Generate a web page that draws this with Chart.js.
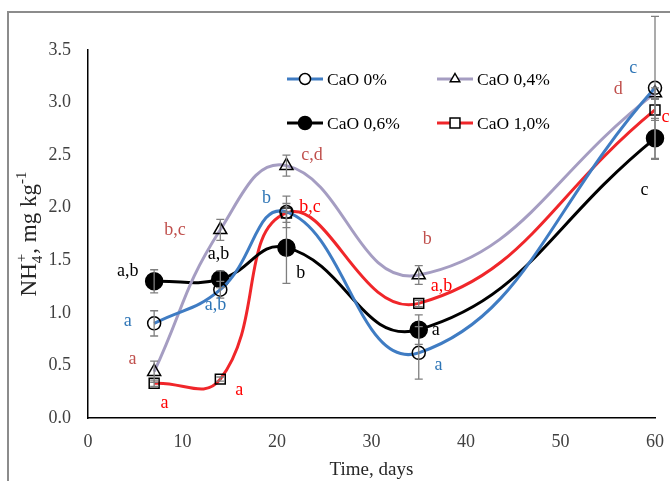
<!DOCTYPE html>
<html>
<head>
<meta charset="utf-8">
<script src="https://cdn.jsdelivr.net/npm/chart.js@4.4.1/dist/chart.umd.min.js"></script>
<style>
  html, body { margin: 0; padding: 0; background: #fff; }
  #wrap { position: relative; width: 670px; height: 481px; }
</style>
</head>
<body>
<div id="wrap"><canvas id="myChart" width="670" height="481"></canvas></div>
<script>
// sampling days
const days = [7, 14, 21, 35, 60];

// NH4+ means, mg/kg
const cao0 = [0.90, 1.22, 1.96, 0.62, 3.14];
const cao04 = [0.44, 1.79, 2.40, 1.36, 3.09];
const cao06 = [1.30, 1.32, 1.62, 0.84, 2.66];
const cao10 = [0.33, 0.37, 1.95, 1.09, 2.93];

// error bars (+/-)
const err0 = [0.12, 0.08, 0.15, 0.25, 0.68];
const err04 = [0.10, 0.10, 0.10, 0.09, 0.05];
const err06 = [0.11, 0.08, 0.34, 0.14, 0.19];
const err10 = [0.03, 0.02, 0.09, 0.03, 0.10];

const seriesNames = ['CaO 0%', 'CaO 0,4%', 'CaO 0,6%', 'CaO 1,0%'];

// significance letters: [day, value, text, colour]
const letters = [
    [4.2, 0.92, 'a', '#2E75B6'],
    [13.5, 1.07, 'a,b', '#2E75B6'],
    [18.9, 2.09, 'b', '#2E75B6'],
    [37.1, 0.50, 'a', '#2E75B6'],
    [57.7, 3.33, 'c', '#2E75B6'],
    [4.7, 0.56, 'a', '#C0504D'],
    [9.2, 1.79, 'b,c', '#C0504D'],
    [23.7, 2.50, 'c,d', '#C0504D'],
    [35.9, 1.70, 'b', '#C0504D'],
    [56.1, 3.13, 'd', '#C0504D'],
    [4.2, 1.40, 'a,b', '#000000'],
    [13.8, 1.56, 'a,b', '#000000'],
    [22.5, 1.38, 'b', '#000000'],
    [36.8, 0.83, 'a', '#000000'],
    [58.9, 2.17, 'c', '#000000'],
    [8.1, 0.14, 'a', '#FF0000'],
    [16.0, 0.26, 'a', '#FF0000'],
    [23.5, 2.00, 'b,c', '#FF0000'],
    [37.4, 1.25, 'a,b', '#FF0000'],
    [61.1, 2.86, 'c', '#FF0000']
];

const serif = '"Liberation Serif", "Times New Roman", serif';

function toXY(vals) {
    return days.map((d, i) => ({ x: d, y: vals[i] }));
}

function drawMarker(ctx, style, x, y, r, border, fill) {
    ctx.save();
    ctx.lineWidth = 1.5;
    ctx.strokeStyle = border;
    ctx.fillStyle = fill;
    ctx.beginPath();
    if (style === 'circle') {
        ctx.arc(x, y, r, 0, Math.PI * 2);
    } else if (style === 'triangle') {
        ctx.moveTo(x, y - r);
        ctx.lineTo(x + r * 0.866, y + r * 0.5);
        ctx.lineTo(x - r * 0.866, y + r * 0.5);
        ctx.closePath();
    } else {
        const s = r * Math.SQRT1_2;
        ctx.rect(x - s, y - s, s * 2, s * 2);
    }
    ctx.fill();
    ctx.stroke();
    ctx.restore();
}

const errors = [err0, err04, err06, err10];

const extrasPlugin = {
    id: 'extras',
    beforeDraw(chart) {
        const ctx = chart.ctx;
        ctx.save();
        ctx.fillStyle = '#fff';
        ctx.fillRect(0, 0, chart.width, chart.height);
        // outer frame
        ctx.strokeStyle = '#8c8c8c';
        ctx.lineWidth = 2;
        ctx.strokeRect(8, 12, 700, 520);
        ctx.restore();
    },
    afterDatasetsDraw(chart) {
        const ctx = chart.ctx;
        const xs = chart.scales.x, ys = chart.scales.y;
        ctx.save();
        // error bars
        ctx.strokeStyle = '#7f7f7f';
        ctx.lineWidth = 1.3;
        chart.data.datasets.forEach((ds, di) => {
            ds.data.forEach((p, i) => {
                const e = errors[di][i];
                const px = xs.getPixelForValue(p.x);
                const top = ys.getPixelForValue(p.y + e);
                const bot = ys.getPixelForValue(p.y - e);
                ctx.beginPath();
                ctx.moveTo(px, top); ctx.lineTo(px, bot);
                ctx.moveTo(px - 4, top); ctx.lineTo(px + 4, top);
                ctx.moveTo(px - 4, bot); ctx.lineTo(px + 4, bot);
                ctx.stroke();
            });
        });
        // letters
        ctx.font = '18px ' + serif;
        ctx.textAlign = 'center';
        ctx.textBaseline = 'middle';
        letters.forEach(l => {
            ctx.fillStyle = l[3];
            ctx.fillText(l[2], xs.getPixelForValue(l[0]), ys.getPixelForValue(l[1]));
        });

        // legend
        chart.data.datasets.forEach((ds, di) => {
            const x0 = di % 2 === 0 ? 287 : 437;
            const y0 = di < 2 ? 79 : 123;
            ctx.strokeStyle = ds.borderColor;
            ctx.lineWidth = 3;
            ctx.beginPath();
            ctx.moveTo(x0, y0); ctx.lineTo(x0 + 36, y0);
            ctx.stroke();
            drawMarker(ctx, ds.pointStyle, x0 + 18, y0, di === 2 ? 6.5 : (di === 3 ? 7 : 5.5),
                '#000', ds.pointBackgroundColor === 'transparent' ? '#fff' : ds.pointBackgroundColor);
            ctx.fillStyle = '#000';
            ctx.font = '17.5px ' + serif;
            ctx.textAlign = 'left';
            ctx.fillText(ds.label, x0 + 40, y0 + 1);
        });

        // axis titles
        ctx.fillStyle = '#262626';
        ctx.textAlign = 'center';
        ctx.font = '19px ' + serif;
        ctx.fillText('Time, days', (chart.chartArea.left + chart.chartArea.right) / 2, 470);

        // y title with sub/superscripts
        const parts = [
            ['NH', 23, 0],
            ['4', 15, 6, 'sub'],
            ['+', 15, -10, 'sup'],
            [', mg kg', 23, 0],
            ['-1', 15, -10]
        ];
        ctx.save();
        ctx.translate(28, 234);
        ctx.rotate(-Math.PI / 2);
        ctx.textAlign = 'left';
        ctx.textBaseline = 'alphabetic';
        let total = 0, subW = 0;
        parts.forEach(p => {
            ctx.font = p[1] + 'px ' + serif;
            const w = ctx.measureText(p[0]).width;
            if (p[3] === 'sub') { subW = w; total += w; }
            else if (p[3] === 'sup') { total += Math.max(0, w + 1 - subW); }
            else total += w;
        });
        let cx = -total / 2, subX = 0;
        parts.forEach(p => {
            ctx.font = p[1] + 'px ' + serif;
            const w = ctx.measureText(p[0]).width;
            if (p[3] === 'sup') {
                ctx.fillText(p[0], subX + 1, 8 + p[2]);
                cx = Math.max(cx, subX + 1 + w);
                return;
            }
            if (p[3] === 'sub') subX = cx;
            ctx.fillText(p[0], cx, 8 + p[2]);
            cx += w;
        });
        ctx.restore();
        ctx.restore();
    }
};

const ctx = document.getElementById('myChart').getContext('2d');

new Chart(ctx, {
    type: 'line',
    data: {
        datasets: [{
            label: seriesNames[0],
            data: toXY(cao0),
            borderColor: '#3F7CC3',
            pointStyle: 'circle',
            pointRadius: 6.5,
            pointBackgroundColor: 'transparent',
            pointBorderColor: '#000'
        }, {
            label: seriesNames[1],
            data: toXY(cao04),
            borderColor: '#A59DC2',
            pointStyle: 'triangle',
            pointRadius: 7.5,
            pointBackgroundColor: 'transparent',
            pointBorderColor: '#000'
        }, {
            label: seriesNames[2],
            data: toXY(cao06),
            borderColor: '#000000',
            pointStyle: 'circle',
            pointRadius: 8.5,
            pointBackgroundColor: '#000000',
            pointBorderColor: '#000'
        }, {
            label: seriesNames[3],
            data: toXY(cao10),
            borderColor: '#F0262A',
            pointStyle: 'rect',
            pointRadius: 7,
            pointBackgroundColor: 'transparent',
            pointBorderColor: '#000'
        }]
    },
    options: {
        responsive: false,
        animation: false,
        devicePixelRatio: 1,
        layout: { padding: { top: 50, right: 15, left: 0, bottom: 0 } },
        elements: {
            line: { borderWidth: 3, tension: 0.45, fill: false },
            point: { borderWidth: 1.5, hoverRadius: 7 }
        },
        datasets: { line: { clip: false } },
        plugins: {
            legend: { display: false },
            tooltip: { enabled: false }
        },
        scales: {
            x: {
                type: 'linear',
                min: 0,
                max: 60,
                ticks: {
                    stepSize: 10,
                    padding: 13,
                    color: '#404040',
                    font: { family: serif, size: 18 },
                    maxRotation: 0
                },
                grid: { display: false, drawTicks: false },
                border: { color: '#000', width: 1.5 },
                afterFit(s) {
                    s.height = 63;
                    s.paddingLeft = 0;
                    s.paddingRight = 0;
                }
            },
            y: {
                min: 0,
                max: 3.5,
                ticks: {
                    stepSize: 0.5,
                    padding: 17,
                    color: '#404040',
                    font: { family: serif, size: 18 },
                    callback: v => v.toFixed(1)
                },
                grid: { display: false, drawTicks: false },
                border: { color: '#000', width: 1.5 },
                afterFit(s) { s.width = 88; }
            }
        }
    },
    plugins: [extrasPlugin]
});
</script>
</body>
</html>
